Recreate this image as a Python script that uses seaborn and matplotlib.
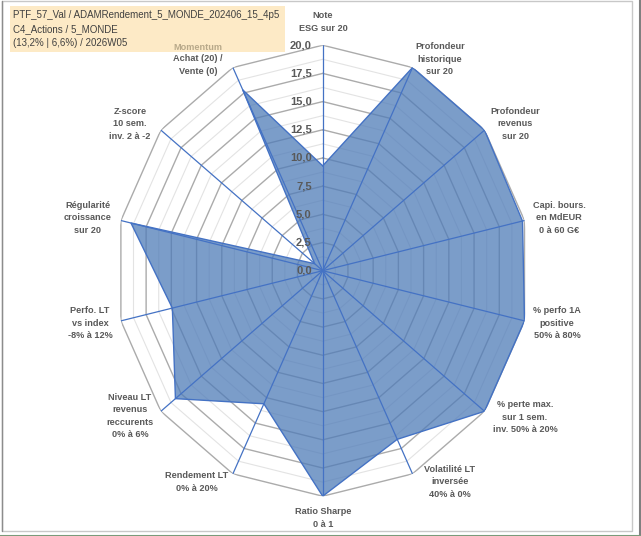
import numpy as np
import pandas as pd
import matplotlib
matplotlib.use("Agg")
import matplotlib.pyplot as plt
import matplotlib.transforms as mtransforms
from matplotlib.patches import Rectangle
from matplotlib.lines import Line2D
import seaborn as sns

# ---------------- data ----------------
categories = [
    "Note\nESG sur 20",
    "Profondeur\nhistorique\nsur 20",
    "Profondeur\nrevenus\nsur 20",
    "Capi. bours.\nen MdEUR\n0 à 60 G€",
    "% perfo 1A\npositive\n50% à 80%",
    "% perte max.\nsur 1 sem.\ninv. 50% à 20%",
    "Volatilité LT\ninversée\n40% à 0%",
    "Ratio Sharpe\n0 à 1",
    "Rendement LT\n0% à 20%",
    "Niveau LT\nrevenus\nreccurents\n0% à 6%",
    "Perfo. LT\nvs index\n-8% à 12%",
    "Régularité\ncroissance\nsur 20",
    "Z-score\n10 sem.\ninv. 2 à -2",
    "Achat (20) /\nVente (0)",
]
values = [9.3, 20.0, 20.0, 19.8, 20.0, 20.0, 16.6, 20.0, 13.1, 18.2, 14.9, 19.0, 1.0, 17.8]
rticks = [0.0, 2.5, 5.0, 7.5, 10.0, 12.5, 15.0, 17.5, 20.0]
rtick_labels = ["0,0", "2,5", "5,0", "7,5", "10,0", "12,5", "15,0", "17,5", "20,0"]
minor_ticks = [1.25, 3.75, 6.25, 8.75, 11.25, 13.75, 16.25, 18.75]
title_lines = ["PTF_57_Val / ADAMRendement_5_MONDE_202406_15_4p5",
               "C4_Actions / 5_MONDE",
               "(13,2% | 6,6%) / 2026W05"]
momentum_title = "Momentum"

# ---------------- layout (pixels) ----------------
W, H = 641, 536
label_px = [(323, 22), (440, 59), (515, 124), (559, 218), (557, 323), (525, 417),
            (450, 482), (323, 518), (197, 482), (130, 416), (90, 323), (88, 218),
            (130, 124), (198, 65)]

sns.set_theme(style="white")
plt.rcParams["font.family"] = ["Liberation Sans", "DejaVu Sans"]

df = pd.DataFrame({"category": categories, "value": values})
n = len(df)
angles = np.linspace(0, 2 * np.pi, n, endpoint=False)
closed_angles = np.append(angles, angles[0])
closed_values = np.append(df["value"].values, df["value"].values[0])

fig = plt.figure(figsize=(W / 100, H / 100), dpi=100)
fig.patch.set_facecolor("white")

cx, cy, rx, ry = 322.7, 270.7, 207.0, 225.5
ax = fig.add_axes([(cx - rx) / W, 1 - (cy + ry) / H, 2 * rx / W, 2 * ry / H],
                  projection="polar")
ax.set_aspect("auto")
ax.set_theta_zero_location("N")
ax.set_theta_direction(-1)
ax.set_ylim(0, 20)
ax.grid(False)
ax.spines["polar"].set_visible(False)
ax.set_xticks([])
ax.set_yticks([])
ax.patch.set_alpha(0)

# polygon gridlines
for r in minor_ticks:
    ax.plot(closed_angles, [r] * (n + 1), color="#E3E3E3", lw=0.8, zorder=1)
for r in rticks[1:]:
    ax.plot(closed_angles, [r] * (n + 1), color="#ABABAB", lw=1.0, zorder=1.1)

# data fill
ax.fill(closed_angles, closed_values, color="#4F7CB8", alpha=0.75, zorder=2, lw=0)
# spokes
for a in angles:
    ax.plot([a, a], [0, 20], color="#4472C4", lw=0.9, zorder=3)
ax.plot(closed_angles, closed_values, color="#4472C4", lw=1.0, zorder=3)

# radial tick labels
offs = mtransforms.offset_copy(ax.transData, fig=fig, x=-11, y=0, units="dots")
for r, lab in zip(rticks, rtick_labels):
    ax.text(0, r, lab, transform=offs, ha="right", va="center", fontsize=8,
            fontweight="bold", color="#595959", zorder=4)

# title box
fig.patches.append(Rectangle((10 / W, 1 - 52 / H), 275 / W, 46 / H,
                             transform=fig.transFigure, facecolor="#FDEAC6",
                             edgecolor="none", zorder=0))
for i, t in enumerate(title_lines):
    fig.text(13 / W, 1 - (15 + 14 * i) / H, t, ha="left", va="center",
             fontsize=7.05, color="#404040")

# category labels
for lab, (px, py) in zip(df["category"], label_px):
    fig.text(px / W, 1 - py / H, lab, ha="center", va="center", fontsize=6.6,
             fontweight="bold", color="#595959", linespacing=1.45)
fig.text(198 / W, 1 - 47 / H, momentum_title, ha="center", va="center",
         fontsize=6.6, fontweight="bold", color="#B8A98A")

# chart border
fig.lines.append(Line2D([1.5 / W, 631.5 / W, 631.5 / W, 1.5 / W, 1.5 / W],
                        [1 - 1 / H, 1 - 1 / H, 1 - 531 / H, 1 - 531 / H, 1 - 1 / H],
                        transform=fig.transFigure, color="#C8C8C8", lw=1))
fig.lines.append(Line2D([1.5 / W, 1.5 / W], [1 - 1 / H, 1 - 531 / H],
                        transform=fig.transFigure, color="#8C8C8C", lw=1))
fig.lines.append(Line2D([640 / W, 640 / W], [1, 0], transform=fig.transFigure,
                        color="#808080", lw=1.5))
fig.lines.append(Line2D([0, 1], [0.5 / H, 0.5 / H], transform=fig.transFigure,
                        color="#7A9A7A", lw=1.5))

fig.savefig("out.png", dpi=100)
